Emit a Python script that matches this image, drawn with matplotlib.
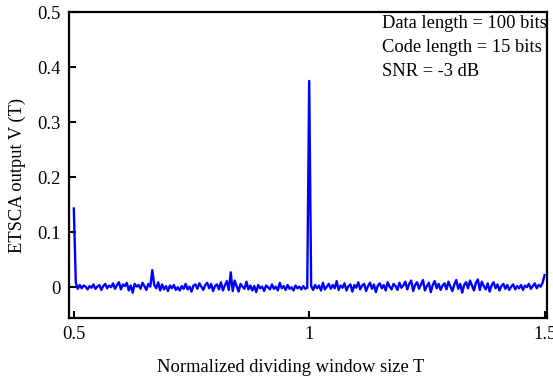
import numpy as np
import matplotlib
matplotlib.use('Agg')
import matplotlib.pyplot as plt

# ETSCA output, one value every 1/240 of T (0.5 .. 1.5)
t_start = 0.5
t_stop = 1.5
v_out = [
    0.143, 0.008, -0.003, 0.004, -0.002, 0.003, 0.001, -0.004, 0.002, -0.001,
    0.005, -0.003, 0.001, 0.004, -0.005, 0.002, 0.006, -0.002, 0.003, 0.000,
    0.007, -0.003, 0.004, 0.009, -0.004, 0.005, 0.002, 0.008, -0.006, 0.003,
    -0.010, 0.006, 0.001, 0.004, -0.003, 0.008, 0.002, -0.005, 0.006, 0.001,
    0.031, 0.004, -0.002, 0.009, -0.006, 0.005, -0.004, 0.002, -0.007, 0.003,
    -0.002, 0.004, -0.005, 0.000, -0.006, 0.002, -0.003, 0.006, -0.004, 0.001,
    -0.008, 0.003, 0.005, -0.003, 0.007, 0.001, -0.005, 0.004, 0.008, -0.002,
    0.006, -0.007, 0.002, 0.005, -0.004, 0.009, -0.006, 0.003, 0.011, -0.005,
    0.027, -0.007, 0.012, 0.002, -0.008, 0.006, 0.001, -0.003, 0.010, -0.004,
    0.003, -0.006, 0.002, -0.009, 0.004, -0.002, 0.001, -0.007, 0.003, 0.000,
    -0.004, 0.005, -0.003, 0.001, -0.006, 0.008, -0.002, 0.002, -0.005, 0.004,
    -0.003, 0.000, -0.006, 0.003, -0.002, 0.001, -0.004, 0.002, -0.003, -0.001,
    0.375, 0.002, -0.005, 0.004, -0.002, 0.003, -0.006, 0.008, -0.004, 0.001,
    0.006, -0.003, 0.004, -0.002, 0.011, -0.005, 0.003, -0.001, 0.007, -0.006,
    0.002, 0.005, -0.008, 0.004, -0.001, 0.009, -0.004, 0.003, 0.006, -0.007,
    0.002, 0.008, -0.003, 0.005, -0.009, 0.003, 0.007, -0.002, 0.004, -0.006,
    0.009, 0.001, -0.004, 0.006, 0.002, -0.005, 0.008, -0.001, 0.003, 0.010,
    -0.004, 0.006, 0.012, -0.007, 0.004, 0.009, -0.003, 0.005, 0.013, -0.006,
    0.002, 0.008, -0.009, 0.004, 0.011, -0.002, 0.006, -0.005, 0.003, 0.007,
    -0.004, 0.010, 0.001, -0.007, 0.005, 0.013, -0.003, 0.006, -0.010, 0.004,
    0.009, -0.002, 0.012, 0.003, -0.006, 0.008, 0.014, -0.005, 0.010, 0.002,
    -0.004, 0.007, -0.008, 0.003, 0.009, -0.002, 0.005, -0.006, 0.002, 0.006,
    -0.003, 0.004, -0.005, 0.001, 0.005, -0.004, 0.002, -0.002, 0.004, -0.005,
    0.003, 0.000, 0.006, -0.003, 0.002, 0.007, -0.002, 0.004, 0.001, 0.008,
    0.022,
]
x_ticks = [0.5, 1, 1.5]
x_tick_labels = ['0.5', '1', '1.5']
y_ticks = [0, 0.1, 0.2, 0.3, 0.4, 0.5]
y_tick_labels = ['0', '0.1', '0.2', '0.3', '0.4', '0.5']
info_lines = ['Data length = 100 bits', 'Code length = 15 bits', 'SNR = -3 dB']

plt.rcParams['font.family'] = ['Liberation Serif', 'DejaVu Serif']
plt.rcParams['font.size'] = 13.3

T = np.linspace(t_start, t_stop, len(v_out))

fig = plt.figure(figsize=(5.53, 3.79), dpi=100)
ax = fig.add_axes([0.125, 0.161, 0.864, 0.807])
ax.plot(T, v_out, color='#0000ff', linewidth=1.7)

ax.set_xlim(0.49, 1.505)
ax.set_ylim(-0.056, 0.5)
ax.set_xticks(x_ticks)
ax.set_xticklabels(x_tick_labels)
ax.set_yticks(y_ticks)
ax.set_yticklabels(y_tick_labels)
ax.tick_params(direction='in', length=5, width=1.5, pad=6)
for sp in ax.spines.values():
    sp.set_linewidth(1.6)

ax.set_xlabel('Normalized dividing window size T', labelpad=11)
ax.set_ylabel('ETSCA output V (T)', labelpad=8)
ax.xaxis.label.set_x(0.464)
ax.yaxis.label.set_y(0.467)

for i, line in enumerate(info_lines):
    ax.text(0.655, 0.963 - i * 0.079, line, transform=ax.transAxes,
            ha='left', va='center')

fig.savefig('out.png', dpi=100)
plt.close(fig)
